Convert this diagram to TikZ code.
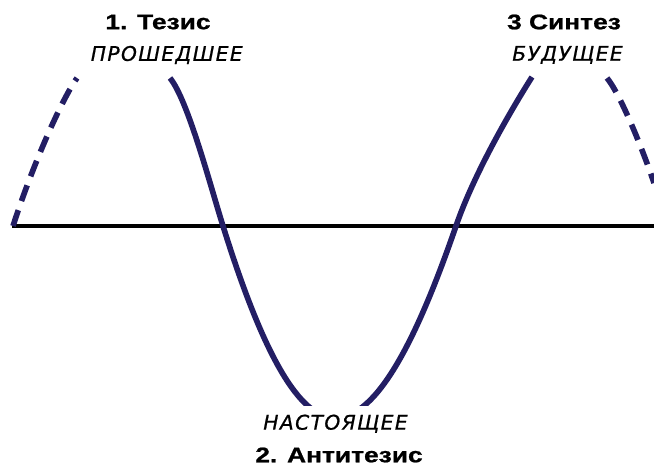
\documentclass[tikz,border=0pt]{standalone}
\usepackage{fontspec}
\setmainfont{Liberation Sans}
\newfontfamily\headfont[FakeStretch=1.25, FakeBold=1]{Liberation Sans}
\newfontfamily\stagefont[LetterSpace=7, FakeBold=0.8]{DejaVu Sans}
\usetikzlibrary{positioning}
\definecolor{wave}{RGB}{35,30,100}

\begin{document}
\begin{tikzpicture}[
    x=0.02cm, y=-0.02cm,
    node distance=7pt,
    title/.style={font=\headfont\bfseries\fontsize{12}{14}\selectfont, inner sep=1pt},
    stage/.style={font=\stagefont\itshape\fontsize{11.5}{13}\selectfont, inner sep=1pt},
    solidwave/.style={draw=wave, line width=3.2pt},
    dashwave/.style={solidwave, dash pattern=on 9.5pt off 5.5pt},
    axisline/.style={draw=black, line width=2.5pt}
    ]
    \useasboundingbox (0,0) rectangle (654,471);

    % time axis
    \coordinate (start) at (12,226);
    \coordinate (stop) at (654,226);
    \draw[axisline] (start) -- (stop);

    % the wave
    \draw[dashwave] (13,226) .. controls (33,164) and (62,99) .. (77,78);
    \draw[solidwave] (170,78) .. controls (188,100) and (211,188) .. (223,226)
        .. controls (258,338) and (295,418) .. (335,418)
        .. controls (378,418) and (418,336) .. (456,226)
        .. controls (476,168) and (518,99) .. (532,77);
    \draw[dashwave] (607,78) .. controls (621,95) and (644,153) .. (654,183);

    % labels
    \node[title] (thesis) at (158,22) {1. Тезис};
    \node[stage, below=of thesis, xshift=5pt] (past) {ПРОШЕДШЕЕ};
    \node[title] (synthesis) at (564,22) {3 Синтез};
    \node[stage, below=of synthesis, xshift=2pt] (future) {БУДУЩЕЕ};
    \node[title] (antithesis) at (339,455) {2. Антитезис};
    \node[stage, fill=white, inner ysep=5pt, above=2pt of antithesis, xshift=-2pt] (present) {НАСТОЯЩЕЕ};
\end{tikzpicture}
\end{document}
